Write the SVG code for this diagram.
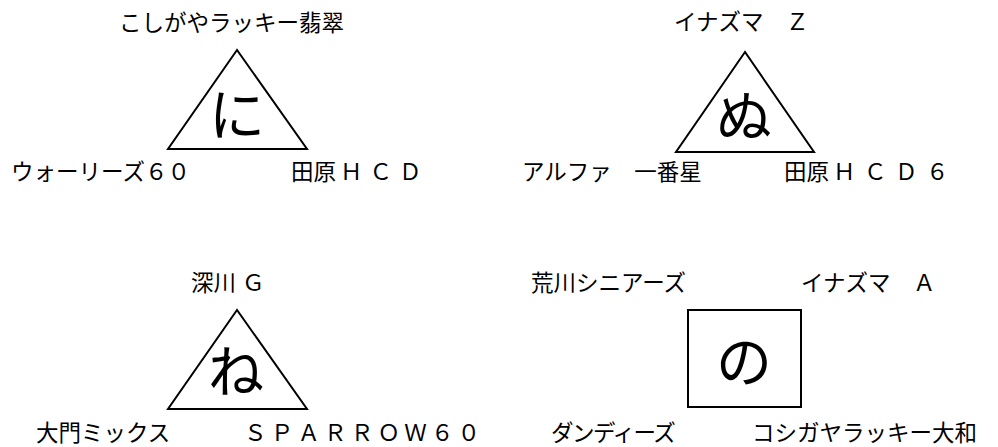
<svg xmlns="http://www.w3.org/2000/svg" width="998" height="447" viewBox="0 0 998 447">
<style>
  .shape { fill: #ffffff; stroke: #000000; stroke-width: 2; stroke-linejoin: miter; }
  .lbl { font-family: "Noto Sans CJK JP", "Noto Sans", sans-serif; font-size: 22.5px; fill: #000000; }
  .big { font-family: "Noto Sans CJK JP", "Noto Sans", sans-serif; font-size: 56px; fill: #000000; text-anchor: middle; }
</style>
<rect x="0" y="0" width="998" height="447" fill="#ffffff"/>

<g id="block-ni">
  <g id="node-ni">
    <polygon class="shape" points="237,50 168,149 307,149"/>
    <text class="big" x="237" y="135">に</text>
  </g>
  <text class="lbl" x="119" y="31">こしがやラッキー翡翠</text>
  <text class="lbl" x="11" y="180">ウォーリーズ６０</text>
  <text class="lbl" x="291" y="180">田原<tspan dx="4" letter-spacing="7">ＨＣＤ</tspan></text>
</g>

<g id="block-nu">
  <g id="node-nu">
    <polygon class="shape" points="745,52 676,152 814,152"/>
    <text class="big" x="744" y="137">ぬ</text>
  </g>
  <text class="lbl" x="674" y="30">イナズマ　Ｚ</text>
  <text class="lbl" x="522" y="180">アルファ　一番星</text>
  <text class="lbl" x="784" y="180">田原<tspan dx="4" letter-spacing="8.5">ＨＣＤ６</tspan></text>
</g>

<g id="block-ne">
  <g id="node-ne">
    <polygon class="shape" points="237,310 168,409 307,409"/>
    <text class="big" x="236" y="392">ね</text>
  </g>
  <text class="lbl" x="191" y="291">深川<tspan dx="6">Ｇ</tspan></text>
  <text class="lbl" x="36" y="441">大門ミックス</text>
  <text class="lbl" x="244" y="441" letter-spacing="4.2">ＳＰＡＲＲＯＷ６０</text>
</g>

<g id="block-no">
  <g id="node-no">
    <rect class="shape" x="688" y="310" width="113" height="97"/>
    <text class="big" x="744" y="382">の</text>
  </g>
  <text class="lbl" x="531" y="291">荒川シニアーズ</text>
  <text class="lbl" x="801" y="291">イナズマ　Ａ</text>
  <text class="lbl" x="551" y="441" letter-spacing="-1.5">ダンディーズ</text>
  <text class="lbl" x="752" y="441">コシガヤラッキー大和</text>
</g>

<g id="connectors"></g>
</svg>
